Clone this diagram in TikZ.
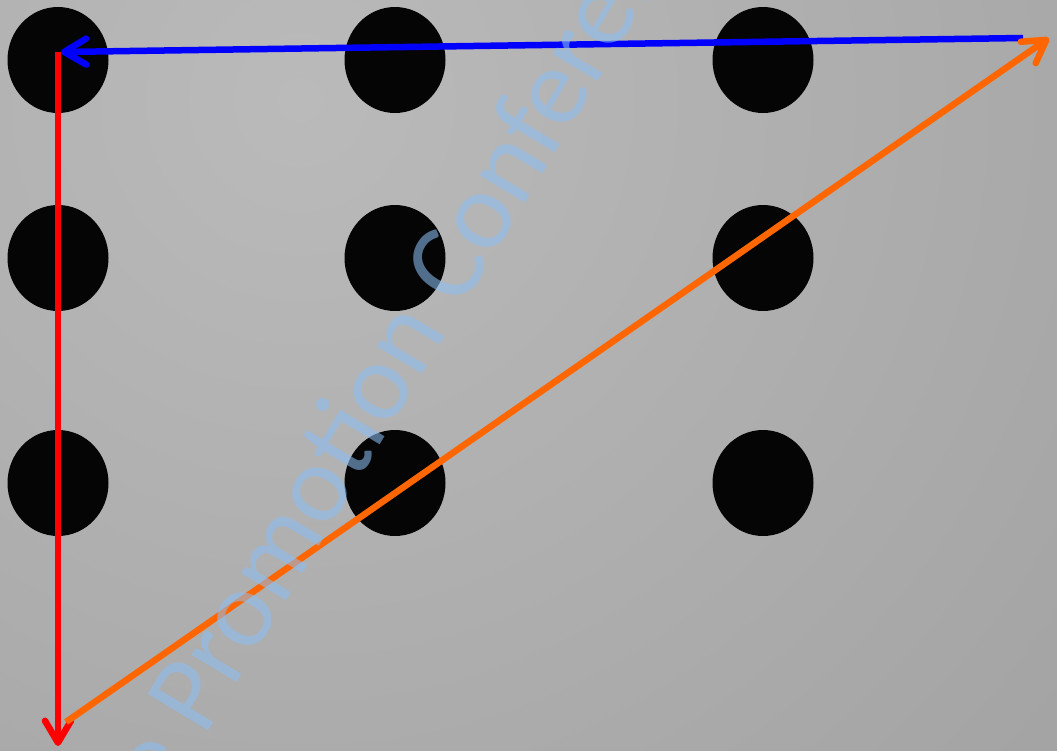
\documentclass[tikz,border=0pt]{standalone}
\usepackage{fontspec}
\usepackage{xcolor}
\usepackage{tikz}
\usetikzlibrary{positioning,arrows.meta,shapes.geometric}
\newfontfamily\wmfont{Carlito}
\definecolor{bgin}{HTML}{BABABA}
\definecolor{bgout}{HTML}{969696}
\definecolor{dotblack}{HTML}{050505}
\definecolor{wmblue}{HTML}{8CBEF5}
\definecolor{lineorange}{HTML}{FF6600}

\begin{document}
\begin{tikzpicture}[x=1pt, y=-1pt,
    dot/.style={ellipse, fill=dotblack, minimum width=101pt, minimum height=106pt, inner sep=0pt},
    move/.style={line width=6.5pt, -{Straight Barb[length=22pt, width=26pt, round]}},
    watermark/.style={text=wmblue, text opacity=0.57, font=\wmfont\fontsize{110}{120}\selectfont, inner sep=0pt, anchor=base west, rotate=59}]
  \useasboundingbox (0,0) rectangle (1057,750);
  \begin{scope}
    \clip (0,0) rectangle (1057,750);
    \shade[inner color=bgin, outer color=bgout] (300,100) circle (1600);
  \end{scope}

  % the nine dots
  \foreach \x/\c in {58/a, 395/b, 763/c}
    \foreach \y/\r in {60/1, 258/2, 483/3}
      \node[dot] (\c\r) at (\x,\y) {};

  \coordinate (redstart) at (58,52);
  \coordinate (bottom) at (58,746);
  \coordinate (orangestart) at (66,722);
  \coordinate (corner) at (1049,38);
  \coordinate (bluestart) at (1023,38);
  \coordinate (topleft) at (61,52);

  \draw[move, red] (redstart) -- (bottom);
  \draw[move, blue] (bluestart) -- (topleft);
  \draw[move, lineorange] (orangestart) -- (corner);

  % watermark
  \begin{scope}
    \clip (0,0) rectangle (1057,750);
    \node[watermark] (mark) at (163,806) {e Promotion Conference};
  \end{scope}
\end{tikzpicture}
\end{document}
